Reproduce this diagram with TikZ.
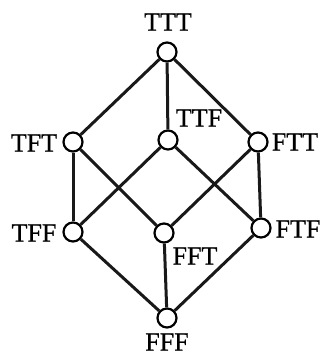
\documentclass[tikz,border=0pt]{standalone}
\usepackage{fontspec}
\setmainfont{Liberation Serif}
\newfontfamily\lblfont[FakeBold=0.6]{Liberation Serif}
\begin{document}
\begin{tikzpicture}[x=1pt,y=-1pt,
  vtx/.style={circle,draw,line width=2.2pt,fill=white,minimum size=19pt,inner sep=0pt},
  edge/.style={line width=3pt,draw=black!90},
  lbl/.style={font=\fontsize{26}{31}\lblfont,inner sep=0pt}]
\useasboundingbox (0,0) rectangle (322,356);
% lattice vertices
\node[vtx] (ttt) at (167,52) {};
\node[vtx] (tft) at (73,142) {};
\node[vtx] (ttf) at (168,140) {};
\node[vtx] (ftt) at (258,142) {};
\node[vtx] (tff) at (73,232) {};
\node[vtx] (fft) at (164,233) {};
\node[vtx] (ftf) at (261,228) {};
\node[vtx] (fff) at (167,318) {};
% edges
\draw[edge] (ttt) -- (tft);
\draw[edge] (ttt) -- (ttf);
\draw[edge] (ttt) -- (ftt);
\draw[edge] (tft) -- (tff);
\draw[edge] (tft) -- (fft);
\draw[edge] (ttf) -- (tff);
\draw[edge] (ttf) -- (ftf);
\draw[edge] (ftt) -- (fft);
\draw[edge] (ftt) -- (ftf);
\draw[edge] (tff) -- (fff);
\draw[edge] (fft) -- (fff);
\draw[edge] (ftf) -- (fff);
% labels
\node[lbl] (lttt) at (168,22) {TTT};
\node[lbl] (lttf) at (199,118) {TTF};
\node[lbl] (ltft) at (34,143) {TFT};
\node[lbl] (lftt) at (295,142) {FTT};
\node[lbl] (ltff) at (34,233) {TFF};
\node[lbl] (lfft) at (195,256) {FFT};
\node[lbl] (lftf) at (298,229) {FTF};
\node[lbl] (lfff) at (167,342) {FFF};
\end{tikzpicture}
\end{document}
